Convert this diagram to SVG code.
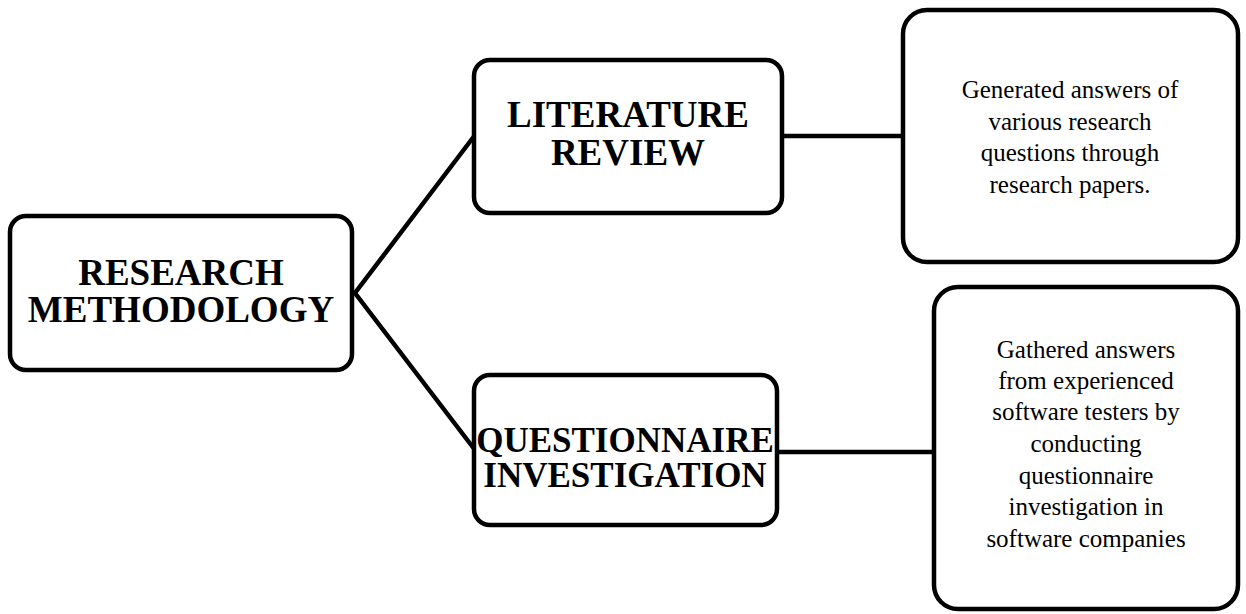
<svg xmlns="http://www.w3.org/2000/svg" width="1246" height="614" viewBox="0 0 1246 614">
<style>
.box{fill:#fff;stroke:#000;stroke-width:4.5}
.con{fill:none;stroke:#000;stroke-width:4.5}
.h{font-family:"Liberation Serif",serif;font-weight:bold;font-size:37px;text-anchor:middle;fill:#000}
.t{font-family:"Liberation Serif",serif;font-size:25px;text-anchor:middle;fill:#000}
</style>
<rect width="1246" height="614" fill="#fff"/>
<g id="connectors">
<polyline class="con" points="475,135 355,293 475,450"/>
<line class="con" x1="782" y1="136" x2="903" y2="136"/>
<line class="con" x1="777" y1="452" x2="934" y2="452"/>
</g>
<g id="research">
<rect class="box" x="10" y="216" width="342" height="154" rx="16"/>
<text class="h" x="181" y="285">RESEARCH</text>
<text class="h" x="181" y="322">METHODOLOGY</text>
</g>
<g id="literature">
<rect class="box" x="474" y="60" width="308" height="153" rx="16"/>
<text class="h" x="628" y="127">LITERATURE</text>
<text class="h" x="628" y="165">REVIEW</text>
</g>
<g id="questionnaire">
<rect class="box" x="474" y="375" width="303" height="150" rx="16"/>
<text class="h" x="625" y="452" style="font-size:35px">QUESTIONNAIRE</text>
<text class="h" x="625" y="487" style="font-size:35px">INVESTIGATION</text>
</g>
<g id="generated">
<rect class="box" x="903" y="10" width="335" height="252" rx="24"/>
<text class="t" x="1070" y="98">Generated answers of</text>
<text class="t" x="1070" y="130">various research</text>
<text class="t" x="1070" y="161">questions through</text>
<text class="t" x="1070" y="193">research papers.</text>
</g>
<g id="gathered">
<rect class="box" x="934" y="287" width="304" height="322" rx="24"/>
<text class="t" x="1086" y="358">Gathered answers</text>
<text class="t" x="1086" y="389">from experienced</text>
<text class="t" x="1086" y="420">software testers by</text>
<text class="t" x="1086" y="452">conducting</text>
<text class="t" x="1086" y="484">questionnaire</text>
<text class="t" x="1086" y="515">investigation in</text>
<text class="t" x="1086" y="547">software companies</text>
</g>
</svg>
